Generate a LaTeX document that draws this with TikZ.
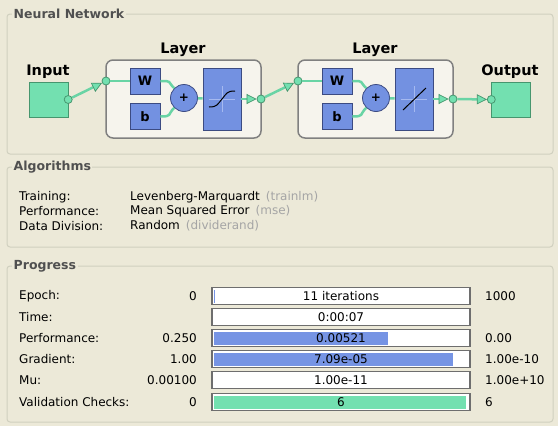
\documentclass[tikz,border=0pt]{standalone}
\usepackage{fontspec}
\setmainfont{DejaVu Sans}
\usepackage{xcolor}
\usepackage{tikz}
\usetikzlibrary{arrows.meta,positioning,calc}

\definecolor{winbg}{RGB}{236,233,216}
\definecolor{panelline}{RGB}{208,208,191}
\definecolor{headgray}{RGB}{80,80,80}
\definecolor{hintgray}{RGB}{165,165,165}
\definecolor{layerfill}{RGB}{246,244,237}
\definecolor{layerline}{RGB}{128,128,128}
\definecolor{blockblue}{RGB}{115,145,225}
\definecolor{blockline}{RGB}{60,75,130}
\definecolor{faintblue}{RGB}{165,185,240}
\definecolor{iogreen}{RGB}{115,224,176}
\definecolor{ioline}{RGB}{70,150,110}
\definecolor{wirecol}{RGB}{105,212,165}
\definecolor{bardark}{RGB}{110,110,110}
\definecolor{barblue}{RGB}{118,148,228}

\tikzset{
  panel/.style={draw=panelline, line width=1pt, rounded corners=3pt},
  paneltitle/.style={fill=winbg, inner sep=1.5pt, anchor=west, text=headgray, font=\fontsize{12.5}{14}\selectfont\bfseries},
  txt/.style={inner sep=0pt, font=\fontsize{12}{14}\selectfont},
  big/.style={inner sep=0pt, font=\fontsize{14.5}{16}\selectfont\bfseries},
  iobox/.style={draw=ioline, fill=iogreen, minimum width=39pt, minimum height=35pt, inner sep=0pt},
  layerbox/.style={draw=layerline, fill=layerfill, line width=1.5pt, rounded corners=7pt, minimum width=155pt, minimum height=78pt, inner sep=0pt},
  block/.style={draw=blockline, fill=blockblue, line width=0.8pt, inner sep=0pt, font=\fontsize{13}{15}\selectfont\bfseries},
  wbox/.style={block, minimum width=30pt, minimum height=26pt},
  fbox/.style={block, minimum width=38pt, minimum height=62pt},
  sumnode/.style={block, circle, minimum size=27pt, font=\fontsize{12}{14}\selectfont\bfseries},
  port/.style={circle, draw=ioline, fill=iogreen, line width=0.8pt, minimum size=8pt, inner sep=0pt},
  wire/.style={draw=wirecol, line width=2.5pt},
  arw/.style={wire, -{Triangle[length=10pt,width=10pt,line width=0.7pt,color=ioline,fill=iogreen]}},
  bar/.style={draw=bardark, line width=1.5pt, fill=white, minimum width=258pt, minimum height=17pt, inner sep=0pt, font=\fontsize{12}{14}\selectfont},
  barfill/.style 2 args={path picture={\fill[#1] ([shift={(2pt,2pt)}]path picture bounding box.south west) rectangle ([shift={(#2,-2pt)}]path picture bounding box.north west);}},
}

\begin{document}
\begin{tikzpicture}[x=1pt, y=-1pt]
\fill[winbg] (0,0) rectangle (558,426);

% group boxes
\draw[panel] (7,14) rectangle (553,154);
\node[paneltitle] (nntitle) at (12,14) {Neural Network};
\draw[panel] (7,167) rectangle (553,247);
\node[paneltitle] (algtitle) at (12,167) {Algorithms};
\draw[panel] (7,266) rectangle (553,422);
\node[paneltitle] (progtitle) at (12,266) {Progress};

% network
\node[big] (inlab) at (48,72) {Input};
\node[iobox] (inbox) at (48.5,99.5) {};
\node[port] (inport) at (inbox.east) {};

\node[big] (lay1lab) at (183,50) {Layer};
\node[layerbox] (lay1) at (183.5,99) {};
\node[port] (lay1in) at (106,81) {};
\node[port] (lay1out) at (261,99) {};
\node[wbox] (w1) at (145,81) {W};
\node[wbox] (b1) at (145,116.5) {b};
\node[sumnode] (sum1) at (184,98) {+};
\node[fbox] (f1) at (222,99) {};
\draw[faintblue, line width=0.8pt] ([xshift=-13pt]f1.center) -- ([xshift=13pt]f1.center) ([yshift=-13pt]f1.center) -- ([yshift=13pt]f1.center);
\draw[black, line width=1pt] ([shift={(-13pt,-8pt)}]f1.center) .. controls +(8pt,0pt) and +(-5pt,-6pt) .. (f1.center) .. controls +(5pt,6pt) and +(-8pt,0pt) .. ([shift={(13pt,8pt)}]f1.center);

\node[big] (lay2lab) at (375,50) {Layer};
\node[layerbox] (lay2) at (375.5,99) {};
\node[port] (lay2in) at (298,81) {};
\node[port] (lay2out) at (453,99) {};
\node[wbox] (w2) at (337,81) {W};
\node[wbox] (b2) at (337,116.5) {b};
\node[sumnode] (sum2) at (376,98) {+};
\node[fbox] (f2) at (414,99) {};
\draw[faintblue, line width=0.8pt] ([xshift=-13pt]f2.center) -- ([xshift=13pt]f2.center) ([yshift=-13pt]f2.center) -- ([yshift=13pt]f2.center);
\draw[black, line width=1pt] ([shift={(-11pt,-11pt)}]f2.center) -- ([shift={(12pt,11pt)}]f2.center);

\node[big] (outlab) at (510,72) {Output};
\node[iobox] (outbox) at (511,99.5) {};
\node[port] (outport) at (outbox.west) {};

% wires
\draw[arw] (inport) -- (lay1in);
\draw[wire] (lay1in) -- (w1);
\draw[wire] (w1.east) .. controls +(12pt,0pt) and +(-7pt,7pt) .. (sum1.135);
\draw[wire] (b1.east) .. controls +(12pt,0pt) and +(-7pt,-7pt) .. (sum1.-135);
\draw[wire] (sum1) -- (f1);
\draw[arw] (f1) -- (lay1out);
\draw[arw] (lay1out) -- (lay2in);
\draw[wire] (lay2in) -- (w2);
\draw[wire] (w2.east) .. controls +(12pt,0pt) and +(-7pt,7pt) .. (sum2.135);
\draw[wire] (b2.east) .. controls +(12pt,0pt) and +(-7pt,-7pt) .. (sum2.-135);
\draw[wire] (sum2) -- (f2);
\draw[arw] (f2) -- (lay2out);
\draw[arw] (lay2out) -- (outport);

% algorithms
\node[txt, anchor=west] (trainlab) at (19,197) {Training:};
\node[txt, anchor=west] (trainval) at (130,197) {Levenberg-Marquardt\hspace{6pt}\textcolor{hintgray}{(trainlm)}};
\node[txt, anchor=west] (perflab) at (19,211) {Performance:};
\node[txt, anchor=west] (perfval) at (130,211) {Mean Squared Error\hspace{6pt}\textcolor{hintgray}{(mse)}};
\node[txt, anchor=west] (divlab) at (19,226) {Data Division:};
\node[txt, anchor=west] (divval) at (130,226) {Random\hspace{6pt}\textcolor{hintgray}{(dividerand)}};

% progress
\node[txt, anchor=west] (eplab) at (19,296) {Epoch:};
\node[txt, anchor=east] (epmin) at (197,296) {0};
\node[bar, barfill={barblue}{3pt}] (epbar) at (341,296) {11 iterations};
\node[txt, anchor=west] (epmax) at (485,296) {1000};

\node[txt, anchor=west] (timelab) at (19,317) {Time:};
\node[bar] (timebar) at (341,317) {0:00:07};

\node[txt, anchor=west] (pflab) at (19,338) {Performance:};
\node[txt, anchor=east] (pfmin) at (197,338) {0.250};
\node[bar, barfill={barblue}{176pt}] (pfbar) at (341,338) {0.00521};
\node[txt, anchor=west] (pfmax) at (485,338) {0.00};

\node[txt, anchor=west] (grlab) at (19,359) {Gradient:};
\node[txt, anchor=east] (grmin) at (197,359) {1.00};
\node[bar, barfill={barblue}{241pt}] (grbar) at (341,359) {7.09e-05};
\node[txt, anchor=west] (grmax) at (485,359) {1.00e-10};

\node[txt, anchor=west] (mulab) at (19,380) {Mu:};
\node[txt, anchor=east] (mumin) at (197,380) {0.00100};
\node[bar] (mubar) at (341,380) {1.00e-11};
\node[txt, anchor=west] (mumax) at (485,380) {1.00e+10};

\node[txt, anchor=west] (vallab) at (19,402) {Validation Checks:};
\node[txt, anchor=east] (valmin) at (197,402) {0};
\node[bar, barfill={iogreen}{254pt}] (valbar) at (341,402) {6};
\node[txt, anchor=west] (valmax) at (485,402) {6};
\end{tikzpicture}
\end{document}
